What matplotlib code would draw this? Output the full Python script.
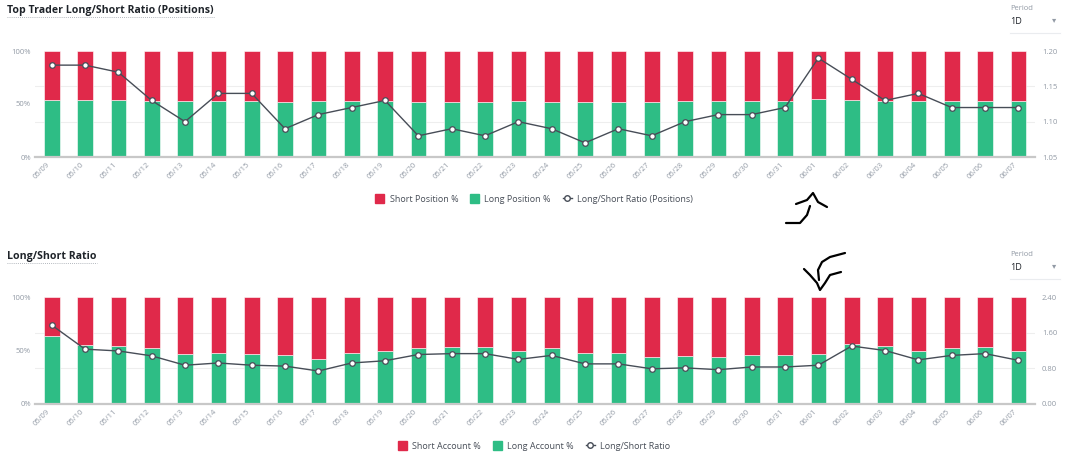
import matplotlib
matplotlib.use("Agg")
import matplotlib.pyplot as plt
from matplotlib.lines import Line2D
from matplotlib.patches import Patch
import numpy as np

plt.rcParams['font.family'] = ['Open Sans', 'DejaVu Sans']

# dates shared by both panels
dates = ["05/09", "05/10", "05/11", "05/12", "05/13", "05/14", "05/15", "05/16",
         "05/17", "05/18", "05/19", "05/20", "05/21", "05/22", "05/23", "05/24",
         "05/25", "05/26", "05/27", "05/28", "05/29", "05/30", "05/31", "06/01",
         "06/02", "06/03", "06/04", "06/05", "06/06", "06/07"]

# top: top trader positions
pos_long = [54.1, 54.1, 53.9, 53.1, 52.4, 53.3, 53.3, 52.2, 52.6, 52.8,
            53.1, 51.9, 52.2, 51.9, 52.4, 52.2, 51.7, 52.2, 51.9, 52.4,
            52.6, 52.6, 52.8, 54.3, 53.7, 53.1, 53.3, 52.8, 52.8, 52.8]
pos_short = [45.9, 45.9, 46.1, 46.9, 47.6, 46.7, 46.7, 47.8, 47.4, 47.2,
             46.9, 48.1, 47.8, 48.1, 47.6, 47.8, 48.3, 47.8, 48.1, 47.6,
             47.4, 47.4, 47.2, 45.7, 46.3, 46.9, 46.7, 47.2, 47.2, 47.2]
pos_ratio = [1.18, 1.18, 1.17, 1.13, 1.10, 1.14, 1.14, 1.09, 1.11, 1.12,
             1.13, 1.08, 1.09, 1.08, 1.10, 1.09, 1.07, 1.09, 1.08, 1.10,
             1.11, 1.11, 1.12, 1.19, 1.16, 1.13, 1.14, 1.12, 1.12, 1.12]

# bottom: all accounts
acc_long = [63.9, 55.2, 54.3, 51.9, 46.5, 47.9, 46.5, 45.9, 42.5, 47.9,
            49.2, 52.6, 53.1, 53.1, 50.0, 52.2, 47.4, 47.4, 44.1, 44.8,
            43.5, 45.4, 45.4, 46.5, 56.5, 54.5, 49.7, 52.2, 53.1, 49.5]
acc_short = [36.1, 44.8, 45.7, 48.1, 53.5, 52.1, 53.5, 54.1, 57.5, 52.1,
             50.8, 47.4, 46.9, 46.9, 50.0, 47.8, 52.6, 52.6, 55.9, 55.2,
             56.5, 54.6, 54.6, 53.5, 43.5, 45.5, 50.3, 47.8, 46.9, 50.5]
acc_ratio = [1.77, 1.23, 1.19, 1.08, 0.87, 0.92, 0.87, 0.85, 0.74, 0.92,
             0.97, 1.11, 1.13, 1.13, 1.00, 1.09, 0.90, 0.90, 0.79, 0.81,
             0.77, 0.83, 0.83, 0.87, 1.30, 1.20, 0.99, 1.09, 1.13, 0.98]

RED = "#e0294a"
GREEN = "#2ebd85"
LINE = "#474d57"
GRAY = "#929aa5"
DARK = "#1e2329"

W, H = 1071, 462
fig = plt.figure(figsize=(W / 100, H / 100), dpi=100)


def px(x, y):
    return x / W, 1 - y / H


def panel(y_top, y_bot, title, title_y, period_y, long_v, short_v, ratio_v,
          rlim, rticks, labels, legend_y):
    l, b = px(35, y_bot)
    ax = fig.add_axes([l, b, 1000 / W, (y_bot - y_top) / H])
    x = np.arange(len(dates))
    # faint grid lines behind the bars, at the right-axis ticks
    for t in rticks[1:-1]:
        ax.axhline(100 * (t - rlim[0]) / (rlim[1] - rlim[0]), color="#eeeeee",
                   linewidth=0.8, zorder=0)
    ax.bar(x, long_v, width=0.47, color=GREEN, edgecolor="white", linewidth=0.4, zorder=2)
    ax.bar(x, short_v, bottom=long_v, width=0.47, color=RED, edgecolor="white",
           linewidth=0.4, zorder=2)
    ax.set_xlim(-0.5, len(dates) - 0.5)
    ax.set_ylim(0, 100)
    ax.set_yticks([0, 50, 100])
    ax.set_yticklabels(["0%", "50%", "100%"])
    ax.set_xticks(x)
    ax.set_xticklabels(dates, rotation=45, ha="right")
    ax.tick_params(axis="both", length=0, labelsize=5.5, labelcolor=GRAY, pad=3)
    for s in ["top", "right", "left"]:
        ax.spines[s].set_visible(False)
    ax.spines["bottom"].set_color("#c8c8c8")
    ax.spines["bottom"].set_linewidth(1.6)

    ax2 = ax.twinx()
    ax2.plot(x, ratio_v, color=LINE, linewidth=1.0, marker="o", markersize=4,
             markerfacecolor="white", markeredgecolor=LINE, markeredgewidth=0.9, zorder=5)
    ax2.set_ylim(*rlim)
    ax2.set_yticks(rticks)
    ax2.set_yticklabels(["%.2f" % t for t in rticks])
    ax2.tick_params(axis="y", length=0, labelsize=5.5, labelcolor=GRAY, pad=5)
    for s in ax2.spines.values():
        s.set_visible(False)

    # title with dotted underline
    tx, ty = px(7, title_y)
    t = fig.text(tx, ty, title, fontsize=7.6, fontweight="bold", color=DARK, va="center")
    fig.canvas.draw()
    bb = t.get_window_extent()
    fig.add_artist(Line2D([bb.x0 / W, bb.x1 / W], [(bb.y0 - 1) / H] * 2,
                          color="#9aa0a8", linewidth=0.6, linestyle=(0, (1, 1.5))))

    # period dropdown
    fig.text(*px(1010, period_y), "Period", fontsize=5.5, color=GRAY, va="center")
    fig.text(*px(1010, period_y + 13), "1D", fontsize=6.5, color=DARK, va="center")
    fig.text(*px(1052, period_y + 13), "\u25BE", fontsize=6, color=GRAY, va="center")
    fig.add_artist(Line2D([1010 / W, 1060 / W], [1 - (period_y + 25) / H] * 2,
                          color="#eaecef", linewidth=0.8))

    handles = [Patch(color=RED), Patch(color=GREEN),
               Line2D([0], [0], color=LINE, linewidth=1.0, marker="o", markersize=4,
                      markerfacecolor="white", markeredgecolor=LINE)]
    fig.legend(handles, labels, loc="center", bbox_to_anchor=px(534, legend_y),
               ncol=3, frameon=False, fontsize=6.5, handlelength=1.0, handleheight=1.0,
               columnspacing=1.3, handletextpad=0.6, labelcolor="#474d57")
    return ax


panel(51, 157, "Top Trader Long/Short Ratio (Positions)", 10, 8,
      pos_long, pos_short, pos_ratio, (1.05, 1.20), [1.05, 1.10, 1.15, 1.20],
      ["Short Position %", "Long Position %", "Long/Short Ratio (Positions)"], 199)
panel(297, 404, "Long/Short Ratio", 256, 254,
      acc_long, acc_short, acc_ratio, (0, 2.4), [0, 0.8, 1.6, 2.4],
      ["Short Account %", "Long Account %", "Long/Short Ratio"], 446)

# hand-drawn arrows (pixel coordinates of the strokes)
strokes = [
    [(796, 204), (807, 200), (813, 193), (818, 202), (827, 207)],
    [(810, 206), (807, 215), (800, 223), (786, 223)],
    [(845, 253), (830, 257), (822, 262), (818, 270), (819, 280)],
    [(804, 269), (810, 275), (817, 283), (820, 290), (825, 283), (830, 275), (841, 272)],
]
for st in strokes:
    xs = [p[0] / W for p in st]
    ys = [1 - p[1] / H for p in st]
    fig.add_artist(Line2D(xs, ys, color="black", linewidth=1.6,
                          solid_capstyle="round", solid_joinstyle="round"))

fig.savefig("out.png", dpi=100)
